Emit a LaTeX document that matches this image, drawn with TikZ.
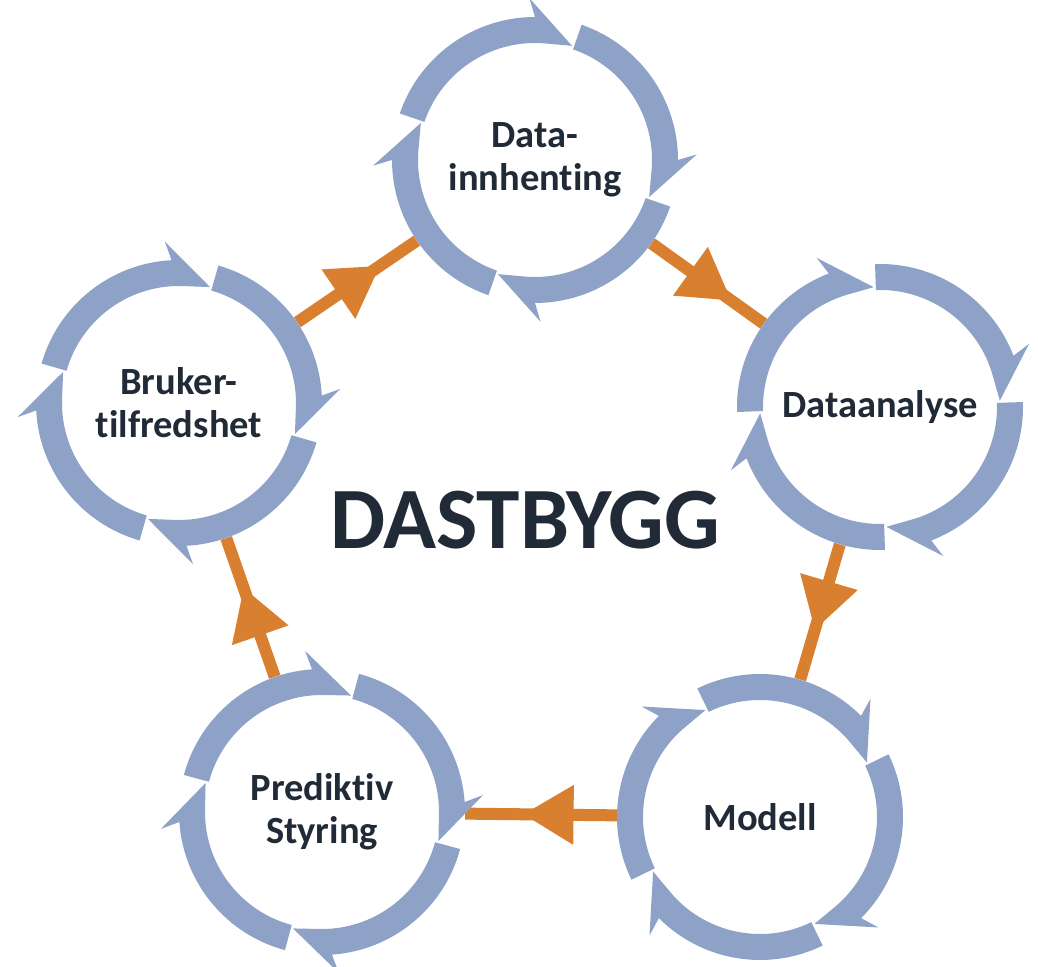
\documentclass[tikz,border=0pt]{standalone}
\usepackage{fontspec}
\setmainfont{Carlito}[Ligatures={NoCommon,NoContextual}]
\usetikzlibrary{decorations.markings}
\definecolor{ringblue}{RGB}{142,162,200}
\definecolor{flowor}{RGB}{216,127,48}
\definecolor{txtdark}{RGB}{33,43,56}
\newcommand\ringsegs[3]{%
  \begin{scope}[shift={(#1,#2)}]
    \foreach \kk in {0,1,2,3}{%
      \pgfmathsetmacro\bang{#3-90*\kk}
      \fill[ringblue] (\bang+71:117) -- (\bang+71:143)
        arc[start angle=\bang+71,end angle=\bang,radius=143]
        -- (\bang+2:162) -- (\bang-18:120) -- (\bang-6:117)
        arc[start angle=\bang-6,end angle=\bang+71,radius=117] -- cycle;
    }
  \end{scope}}
\begin{document}
\begin{tikzpicture}[x=1pt,y=1pt,
  stage/.style={circle,minimum size=286pt,inner sep=0pt,align=center,
    text=txtdark,font=\bfseries\fontsize{38.5}{43}\selectfont},
  flow/.style={draw=flowor,line width=12pt,postaction={decorate},
    decoration={markings,mark=at position #1 with
      {\fill[flowor] (0,0) -- (-50,30) -- (-50,-30) -- cycle;}}}]
\useasboundingbox (0,0) rectangle (1038,966);

\node[stage] (data) at (535,806) {Data-\\innhenting};
\node[stage] (ana) at (880,559) {Dataanalyse};
\node[stage] (mod) at (760,149) {Modell};
\node[stage] (pred) at (322,154) {Prediktiv\\Styring};
\node[stage] (bruk) at (179,563) {Bruker-\\tilfredshet};
\node[text=txtdark,inner sep=0pt,font=\bfseries\fontsize{87.5}{90}\selectfont] (title) at (525,446) {DASTBYGG};

\draw[flow=0.71] (data) -- (ana);
\draw[flow=0.63] (ana) -- (mod);
\draw[flow=0.615] (mod) -- (pred);
\draw[flow=0.64] (pred) -- (bruk);
\draw[flow=0.69] (bruk) -- (data);

\ringsegs{535}{806}{90}
\ringsegs{880}{559}{111}
\ringsegs{760}{149}{45}
\ringsegs{322}{154}{94}
\ringsegs{179}{563}{93}
\end{tikzpicture}
\end{document}
